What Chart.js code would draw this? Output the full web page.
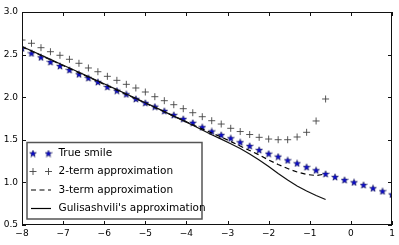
<!DOCTYPE html>
<html>
<head>
<meta charset="utf-8">
<script src="https://cdn.jsdelivr.net/npm/chart.js@4/dist/chart.umd.min.js"></script>
<style>
  body { margin: 0; background: #fff; }
  #wrap { width: 399px; height: 245px; }
</style>
</head>
<body>
<div id="wrap"><canvas id="myChart" width="399" height="245"></canvas></div>
<script>
// log-moneyness grid (40 points from -8 to 1)
const xs = [-8, -7.769, -7.538, -7.308, -7.077, -6.846, -6.615, -6.385, -6.154, -5.923,
  -5.692, -5.462, -5.231, -5.0, -4.769, -4.538, -4.308, -4.077, -3.846, -3.615,
  -3.385, -3.154, -2.923, -2.692, -2.462, -2.231, -2.0, -1.769, -1.538, -1.308,
  -1.077, -0.846, -0.615, -0.385, -0.154, 0.077, 0.308, 0.538, 0.769, 1.0];

const trueSmile = [2.574, 2.515, 2.468, 2.413, 2.366, 2.319, 2.269, 2.225, 2.178, 2.12,
  2.076, 2.034, 1.979, 1.932, 1.888, 1.838, 1.791, 1.744, 1.699, 1.648,
  1.598, 1.556, 1.518, 1.471, 1.427, 1.38, 1.337, 1.302, 1.259, 1.224,
  1.18, 1.142, 1.099, 1.063, 1.028, 1.001, 0.969, 0.931, 0.896, 0.858];

// approximations stop at x = -0.615
const twoTerm = [2.671, 2.633, 2.581, 2.534, 2.492, 2.445, 2.398, 2.343, 2.299, 2.245,
  2.198, 2.151, 2.108, 2.061, 2.006, 1.959, 1.912, 1.865, 1.818, 1.771,
  1.724, 1.685, 1.635, 1.597, 1.562, 1.529, 1.509, 1.501, 1.501, 1.533,
  1.588, 1.721, 1.979];

const threeTerm = [2.592, 2.541, 2.491, 2.439, 2.388, 2.338, 2.286, 2.236, 2.185, 2.134,
  2.083, 2.033, 1.981, 1.931, 1.88, 1.829, 1.778, 1.728, 1.677, 1.627,
  1.58, 1.533, 1.48, 1.427, 1.374, 1.322, 1.263, 1.21, 1.163, 1.122,
  1.093, 1.081, 1.099];

const gulisashvili = [2.595, 2.545, 2.494, 2.444, 2.393, 2.343, 2.292, 2.242, 2.191, 2.14,
  2.089, 2.038, 1.986, 1.934, 1.883, 1.831, 1.778, 1.725, 1.671, 1.616,
  1.56, 1.508, 1.454, 1.398, 1.333, 1.263, 1.187, 1.104, 1.028, 0.958,
  0.899, 0.846, 0.799];

const seriesNames = ["True smile", "2-term approximation", "3-term approximation", "Gulisashvili's approximation"];
const xTicks = [-8, -7, -6, -5, -4, -3, -2, -1, 0, 1];
const yTicks = [0.5, 1.0, 1.5, 2.0, 2.5, 3.0];

function pts(vals) {
  return vals.map((v, i) => ({ x: xs[i], y: v }));
}

// filled 5-point star, chart.js 'star' is only an outline asterisk
function makeStar(size) {
  var c = document.createElement("canvas");
  c.width = size; c.height = size;
  var g = c.getContext("2d");
  var cx = size / 2, cy = size / 2 + 0.3, R = size / 2 - 0.4, r = R * 0.42;
  g.beginPath();
  for (var k = 0; k < 10; k++) {
    var a = -Math.PI / 2 + k * Math.PI / 5;
    var rr = k % 2 === 0 ? R : r;
    g.lineTo(cx + rr * Math.cos(a), cy + rr * Math.sin(a));
  }
  g.closePath();
  g.fillStyle = "#0c0cd0";
  g.fill();
  g.strokeStyle = "#00003a";
  g.lineWidth = 0.5;
  g.stroke();
  return c;
}
const star = makeStar(8);

const minus = v => String(v).replace("-", "\u2212");

// inward ticks on all four sides + top/right spines
const frameTicks = {
  id: "frameTicks",
  afterDraw(chart) {
    const { ctx, chartArea: a, scales } = chart;
    ctx.save();
    ctx.strokeStyle = "#111";
    ctx.lineWidth = 1;
    ctx.strokeRect(a.left + 0.5, a.top + 0.5, a.right - a.left - 1, a.bottom - a.top - 1);
    const L = 4;
    ctx.beginPath();
    xTicks.forEach(t => {
      const px = Math.round(scales.x.getPixelForValue(t)) + 0.5;
      ctx.moveTo(px, a.bottom); ctx.lineTo(px, a.bottom - L);
      ctx.moveTo(px, a.top); ctx.lineTo(px, a.top + L);
    });
    yTicks.forEach(t => {
      const py = Math.round(scales.y.getPixelForValue(t)) + 0.5;
      ctx.moveTo(a.left, py); ctx.lineTo(a.left + L, py);
      ctx.moveTo(a.right, py); ctx.lineTo(a.right - L, py);
    });
    ctx.stroke();
    ctx.restore();
  }
};

// matplotlib style legend box in lower left
const boxLegend = {
  id: "boxLegend",
  afterDraw(chart) {
    const ctx = chart.ctx;
    const bx = 27, by = 142.5, bw = 175, bh = 76.5;
    ctx.save();
    ctx.fillStyle = "#fff";
    ctx.fillRect(bx, by, bw, bh);
    ctx.strokeStyle = "#555";
    ctx.lineWidth = 1.5;
    ctx.strokeRect(bx, by, bw, bh);
    const rows = [153.5, 171.5, 190, 208.5];
    const m1 = 33, m2 = 48.5;
    // stars
    ctx.drawImage(star, m1 - 4, rows[0] - 4);
    ctx.drawImage(star, m2 - 4, rows[0] - 4);
    // pluses
    ctx.strokeStyle = "#444";
    ctx.lineWidth = 0.9;
    ctx.beginPath();
    [m1, m2].forEach(mx => {
      ctx.moveTo(mx - 3.5, rows[1]); ctx.lineTo(mx + 3.5, rows[1]);
      ctx.moveTo(mx, rows[1] - 3.5); ctx.lineTo(mx, rows[1] + 3.5);
    });
    ctx.stroke();
    // dashed
    ctx.strokeStyle = "#000";
    ctx.lineWidth = 1.2;
    ctx.setLineDash([5, 3.5]);
    ctx.beginPath();
    ctx.moveTo(31, rows[2]); ctx.lineTo(51, rows[2]);
    ctx.stroke();
    ctx.setLineDash([]);
    ctx.beginPath();
    ctx.moveTo(31, rows[3]); ctx.lineTo(51, rows[3]);
    ctx.stroke();
    ctx.fillStyle = "#000";
    ctx.font = "10.5px 'DejaVu Sans'";
    ctx.textBaseline = "middle";
    seriesNames.forEach((s, i) => ctx.fillText(s, 58.5, rows[i]));
    ctx.restore();
  }
};

var ctx = document.getElementById("myChart");
var myChart = new Chart(ctx, {
  type: "line",
  data: {
    datasets: [
      {
        label: seriesNames[0],
        data: pts(trueSmile),
        showLine: false,
        pointStyle: star,
        pointRadius: 4,
        order: 4,
      },
      {
        label: seriesNames[1],
        data: pts(twoTerm),
        showLine: false,
        pointStyle: "cross",
        pointRadius: 3.5,
        pointBorderWidth: 0.9,
        pointBorderColor: "#444",
        order: 3,
      },
      {
        label: seriesNames[2],
        data: pts(threeTerm),
        borderColor: "#000",
        borderWidth: 1.2,
        borderDash: [5, 3.5],
        pointRadius: 0,
        fill: false,
        order: 2,
      },
      {
        label: seriesNames[3],
        data: pts(gulisashvili),
        borderColor: "#111",
        borderWidth: 1.2,
        pointRadius: 0,
        fill: false,
        order: 1,
      },
    ],
  },
  options: {
    responsive: false,
    animation: false,
    layout: { padding: { top: 12, right: 7, left: 0, bottom: 0 } },
    plugins: {
      legend: { display: false },
      tooltip: { enabled: false },
    },
    scales: {
      x: {
        type: "linear",
        min: -8,
        max: 1,
        afterFit: s => { s.height = 20; },
        afterBuildTicks: s => { s.ticks = xTicks.map(v => ({ value: v })); },
        grid: { display: false, drawTicks: false },
        border: { display: false },
        ticks: {
          padding: 3,
          color: "#000",
          font: { family: "DejaVu Sans", size: 9 },
          maxRotation: 0,
          callback: v => minus(v),
        },
      },
      y: {
        type: "linear",
        min: 0.5,
        max: 3.0,
        afterFit: s => { s.width = 22; },
        afterBuildTicks: s => { s.ticks = yTicks.map(v => ({ value: v })); },
        grid: { display: false, drawTicks: false },
        border: { display: false },
        ticks: {
          padding: 4,
          color: "#000",
          font: { family: "DejaVu Sans", size: 9 },
          callback: v => v.toFixed(1),
        },
      },
    },
  },
  plugins: [frameTicks, boxLegend],
});
</script>
</body>
</html>
